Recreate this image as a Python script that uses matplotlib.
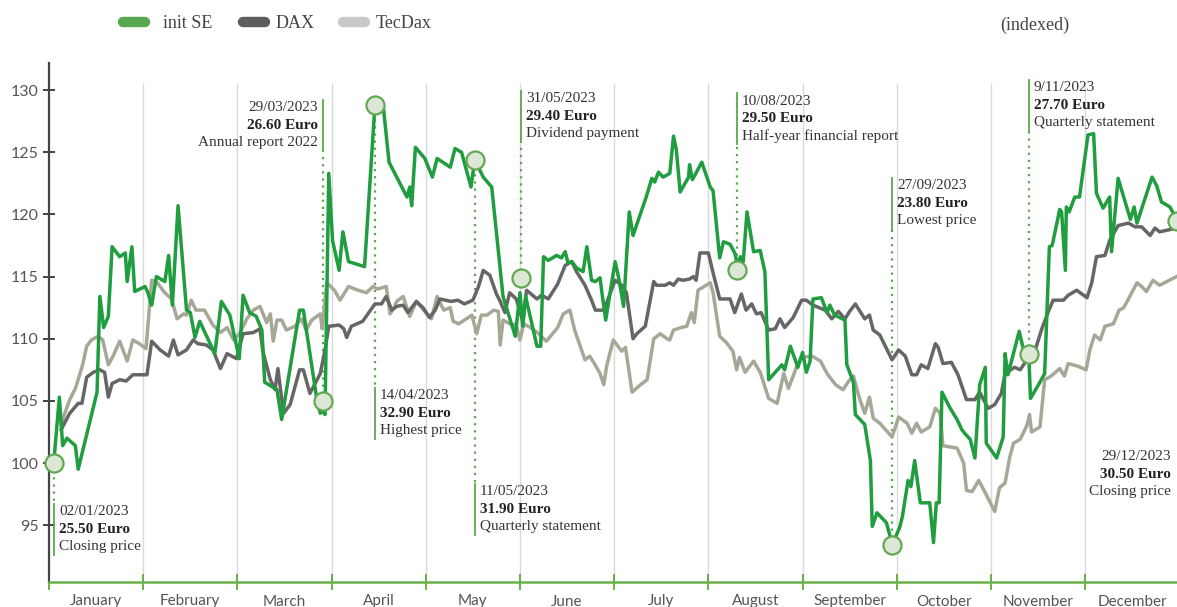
import matplotlib
matplotlib.use('Agg')
import matplotlib.pyplot as plt
from matplotlib.lines import Line2D

# x positions are in "month units" (0 = 1 Jan, 1 = 1 Feb, ...), values indexed to 100
months = ['January', 'February', 'March', 'April', 'May', 'June', 'July',
          'August', 'September', 'October', 'November', 'December']

init_x = [0.05, 0.11, 0.145, 0.19, 0.28, 0.31, 0.51, 0.54, 0.58, 0.63, 0.67, 0.75, 0.81, 0.83, 0.88, 0.91,
          1.02, 1.05, 1.09, 1.14, 1.23, 1.27, 1.31, 1.37, 1.46, 1.50, 1.55, 1.60, 1.76, 1.83, 1.92,
          2.02, 2.06, 2.13, 2.20, 2.26, 2.29, 2.42, 2.47, 2.66, 2.70, 2.84, 2.88, 2.91, 2.93, 2.97,
          3.01, 3.08, 3.12, 3.18, 3.35, 3.46, 3.55, 3.61, 3.80, 3.83, 3.85, 3.89, 3.99,
          4.07, 4.12, 4.26, 4.31, 4.38, 4.48, 4.52, 4.61, 4.70, 4.82, 4.95, 5.00, 5.03, 5.06, 5.18, 5.22,
          5.25, 5.30, 5.39, 5.44, 5.48, 5.51, 5.55, 5.60, 5.67, 5.71, 5.76, 5.80, 5.85, 5.87, 5.91,
          6.01, 6.05, 6.10, 6.16, 6.20, 6.34, 6.40, 6.43, 6.47, 6.52, 6.59, 6.63, 6.66, 6.70, 6.79, 6.80,
          6.83, 6.86, 6.93, 7.02, 7.05, 7.12, 7.16, 7.23, 7.28, 7.31, 7.34, 7.37, 7.41, 7.48, 7.55, 7.60,
          7.64, 7.78, 7.81, 7.87, 7.95, 8.00, 8.04, 8.08, 8.11, 8.20, 8.26, 8.29, 8.34, 8.45, 8.47, 8.54,
          8.56, 8.66, 8.72, 8.74, 8.79, 8.89, 8.93, 8.95, 9.03, 9.06, 9.12, 9.15, 9.19, 9.25, 9.35, 9.39,
          9.42, 9.45, 9.48, 9.56, 9.64, 9.69, 9.72, 9.78, 9.83, 9.88, 9.94, 9.95, 10.06, 10.13, 10.15,
          10.18, 10.30, 10.36, 10.40, 10.42, 10.52, 10.57, 10.62, 10.65, 10.73, 10.75, 10.79, 10.80,
          10.83, 10.89, 10.94, 11.03, 11.09, 11.12, 11.19, 11.26, 11.28, 11.35, 11.48, 11.52, 11.55,
          11.71, 11.76, 11.81, 11.90, 11.97]
init_y = [100.0, 105.3, 101.4, 102.0, 101.4, 99.5, 105.7, 113.4, 110.9, 111.8, 117.4, 116.6, 116.9, 114.6, 117.4, 113.8,
          114.2, 113.7, 112.7, 115.0, 114.6, 116.7, 112.7, 120.7, 112.3, 112.1, 110.1, 111.4, 108.8, 113.0, 111.9,
          108.4, 113.5, 112.1, 111.8, 110.7, 106.5, 105.9, 103.5, 112.3, 112.3, 105.3, 104.0, 104.2, 103.9, 123.3,
          117.9, 115.5, 118.6, 116.2, 115.8, 128.8, 128.6, 124.2, 121.4, 122.2, 120.7, 125.4, 124.5,
          123.0, 124.5, 123.8, 125.3, 125.0, 122.2, 124.4, 123.0, 122.2, 113.4, 110.2, 113.7, 111.0, 113.4, 109.4, 109.4,
          116.6, 116.3, 116.7, 116.5, 117.0, 116.1, 116.2, 115.7, 115.4, 117.4, 114.7, 114.6, 114.9, 113.7, 111.5,
          116.2, 114.8, 112.6, 120.2, 118.3, 121.4, 122.9, 122.6, 123.4, 123.0, 123.3, 126.3, 125.2, 121.8, 123.0, 124.0,
          122.8, 123.2, 124.2, 122.2, 121.9, 116.5, 117.8, 117.6, 116.9, 115.9, 116.6, 116.2, 120.2, 117.0, 117.1, 115.4,
          106.7, 107.9, 107.5, 109.4, 107.7, 108.9, 107.3, 108.2, 113.2, 113.3, 112.1, 112.7, 111.9, 111.5, 107.9, 106.5,
          103.9, 103.1, 100.2, 94.9, 96.0, 95.2, 94.1, 93.4, 94.8, 95.7, 98.6, 98.1, 100.2, 96.8, 96.8, 93.6,
          96.8, 96.8, 105.7, 104.5, 103.5, 102.7, 102.4, 101.9, 100.4, 106.3, 107.7, 101.6, 100.4, 102.1, 108.8,
          107.1, 110.6, 108.6, 108.9, 105.2, 106.5, 107.2, 117.4, 117.5, 120.4, 120.2, 115.5, 120.6,
          120.2, 121.4, 121.4, 126.4, 126.5, 121.7, 120.5, 121.4, 117.0, 122.9, 119.6, 120.6, 119.3,
          123.0, 122.3, 121.0, 120.6, 119.6]

dax_x = [0.13, 0.22, 0.31, 0.35, 0.40, 0.47, 0.54, 0.59, 0.63, 0.67, 0.75, 0.82, 0.89, 1.04, 1.09, 1.18, 1.27,
         1.32, 1.37, 1.46, 1.53, 1.58, 1.67, 1.74, 1.82, 1.89, 1.99, 2.06, 2.17, 2.24, 2.27, 2.35, 2.40, 2.43,
         2.49, 2.56, 2.66, 2.70, 2.77, 2.88, 2.93, 2.97, 3.08, 3.13, 3.16, 3.21, 3.33, 3.46, 3.53, 3.58, 3.64,
         3.69, 3.76, 3.81, 3.90, 3.97, 4.04, 4.10, 4.15, 4.27, 4.34, 4.41, 4.50, 4.56, 4.61, 4.68, 4.75, 4.79,
         4.84, 4.89, 4.96, 5.03, 5.07, 5.18, 5.23, 5.30, 5.40, 5.48, 5.55, 5.60, 5.69, 5.76, 5.80, 5.89, 5.96,
         6.01, 6.08, 6.13, 6.20, 6.24, 6.33, 6.42, 6.45, 6.54, 6.59, 6.63, 6.68, 6.73, 6.80, 6.84, 6.87, 6.91,
         7.00, 7.05, 7.12, 7.23, 7.28, 7.35, 7.40, 7.46, 7.51, 7.56, 7.64, 7.71, 7.76, 7.81, 7.90, 7.99, 8.04,
         8.11, 8.24, 8.31, 8.38, 8.45, 8.50, 8.56, 8.61, 8.66, 8.71, 8.75, 8.82, 8.95, 9.02, 9.09, 9.16, 9.21,
         9.26, 9.33, 9.41, 9.44, 9.49, 9.58, 9.65, 9.74, 9.83, 9.88, 9.97, 10.04, 10.11, 10.15, 10.25, 10.31,
         10.40, 10.47, 10.54, 10.61, 10.66, 10.77, 10.82, 10.91, 11.02, 11.07, 11.12, 11.21, 11.26, 11.35,
         11.46, 11.53, 11.60, 11.69, 11.74, 11.79, 11.97]
dax_y = [102.7, 104.0, 104.8, 104.8, 106.9, 107.3, 107.5, 107.3, 105.3, 106.4, 106.7, 106.6, 107.1, 107.1, 109.8, 109.1, 108.6,
         109.9, 108.7, 109.1, 109.9, 109.6, 109.5, 109.1, 107.6, 108.8, 108.4, 110.4, 110.5, 110.8, 109.0, 106.7, 105.9, 107.6,
         104.0, 104.7, 107.5, 107.5, 105.6, 107.2, 109.1, 111.0, 111.1, 110.8, 110.1, 111.0, 111.4, 112.8, 112.8, 113.4, 112.3,
         112.6, 112.7, 112.1, 113.0, 112.5, 111.7, 112.3, 113.2, 113.0, 113.1, 112.8, 113.1, 114.2, 115.5, 115.1, 113.6, 113.0,
         112.1, 113.7, 113.2, 111.4, 113.9, 113.2, 113.5, 113.2, 114.4, 115.9, 116.2, 115.4, 114.3, 113.1, 112.3, 112.3, 113.7,
         114.7, 114.3, 113.7, 110.0, 110.4, 111.0, 114.6, 114.3, 114.3, 114.5, 114.3, 114.8, 114.7, 114.8, 115.0, 114.7, 116.9,
         116.9, 115.3, 113.2, 113.2, 112.1, 113.6, 112.3, 112.8, 112.0, 112.1, 110.7, 110.8, 111.6, 110.9, 111.7, 113.1, 113.1,
         112.7, 112.3, 111.6, 112.2, 111.6, 112.2, 112.8, 112.2, 111.6, 111.9, 110.7, 110.3, 108.3, 109.1, 108.6, 107.1, 107.1,
         107.9, 107.6, 109.6, 109.3, 108.0, 108.1, 107.1, 105.1, 105.1, 105.7, 104.4, 104.7, 105.6, 107.2, 107.7, 107.5,
         108.5, 109.1, 110.8, 112.2, 113.1, 113.1, 113.5, 113.9, 113.3, 114.5, 116.6, 116.7, 117.9, 119.1,
         119.3, 119.0, 119.0, 118.3, 118.9, 118.6, 118.9]

tec_x = [0.13, 0.22, 0.28, 0.33, 0.36, 0.40, 0.45, 0.52, 0.57, 0.63, 0.68, 0.75, 0.79, 0.83, 0.89, 0.96, 1.03,
         1.09, 1.14, 1.23, 1.30, 1.36, 1.43, 1.46, 1.51, 1.56, 1.65, 1.74, 1.82, 1.89, 1.96, 2.03, 2.10, 2.17,
         2.24, 2.31, 2.35, 2.38, 2.42, 2.47, 2.52, 2.61, 2.68, 2.73, 2.79, 2.88, 2.90, 2.95, 3.03, 3.09, 3.18,
         3.28, 3.37, 3.44, 3.49, 3.58, 3.62, 3.67, 3.69, 3.76, 3.83, 3.90, 3.99, 4.06, 4.12, 4.19, 4.26, 4.29,
         4.35, 4.43, 4.49, 4.54, 4.59, 4.65, 4.72, 4.77, 4.79, 4.82, 4.89, 4.96, 5.00, 5.04, 5.11, 5.20, 5.28,
         5.40, 5.46, 5.53, 5.58, 5.69, 5.74, 5.79, 5.85, 5.89, 5.92, 5.99, 6.08, 6.12, 6.19, 6.28, 6.35, 6.42,
         6.49, 6.56, 6.59, 6.63, 6.71, 6.77, 6.82, 6.85, 6.89, 7.02, 7.05, 7.12, 7.19, 7.26, 7.30, 7.33, 7.39,
         7.48, 7.55, 7.64, 7.73, 7.80, 7.85, 7.94, 7.99, 8.10, 8.19, 8.26, 8.35, 8.43, 8.49, 8.54, 8.60, 8.66,
         8.71, 8.75, 8.82, 8.95, 9.02, 9.11, 9.16, 9.21, 9.26, 9.35, 9.41, 9.46, 9.49, 9.64, 9.71, 9.74, 9.80,
         9.87, 9.94, 10.04, 10.09, 10.15, 10.20, 10.24, 10.31, 10.38, 10.41, 10.43, 10.52, 10.57, 10.64, 10.73,
         10.78, 10.82, 10.92, 11.01, 11.05, 11.10, 11.16, 11.21, 11.30, 11.36, 11.41, 11.46, 11.55, 11.60,
         11.65, 11.72, 11.79, 11.97]
tec_y = [103.2, 105.1, 106.0, 107.2, 108.0, 109.4, 109.9, 110.2, 109.9, 107.9, 108.6, 109.8, 109.0, 108.2, 109.9, 109.6, 109.2,
         114.7, 114.6, 113.7, 113.2, 111.6, 112.0, 111.9, 113.1, 112.3, 112.3, 111.1, 110.5, 110.9, 109.9, 110.5, 111.6, 112.3,
         112.6, 111.3, 112.0, 109.8, 111.5, 111.5, 110.7, 111.0, 111.6, 110.7, 111.5, 112.0, 110.8, 114.5, 113.9, 113.1, 114.2,
         113.9, 113.7, 114.2, 114.0, 114.2, 112.0, 112.6, 113.0, 113.4, 111.8, 113.0, 112.2, 111.6, 113.4, 112.3, 112.5, 111.4,
         111.2, 111.6, 111.9, 110.4, 111.9, 111.9, 112.3, 112.2, 109.5, 111.5, 111.2, 111.1, 109.9, 111.2, 110.9, 110.4, 109.8,
         110.9, 112.0, 112.3, 110.7, 108.3, 108.6, 108.0, 107.2, 106.3, 107.8, 109.9, 109.0, 109.3, 105.7, 106.3, 106.7, 110.0,
         110.4, 110.0, 109.9, 110.7, 110.9, 111.0, 112.1, 111.3, 113.9, 114.5, 113.7, 110.2, 109.7, 109.0, 107.5, 108.5, 107.3,
         108.2, 107.3, 105.2, 104.8, 107.2, 106.0, 107.8, 108.5, 108.6, 108.2, 107.2, 106.3, 105.9, 106.6, 107.0, 105.3, 104.0,
         105.3, 103.6, 103.2, 102.1, 103.7, 103.2, 102.4, 103.2, 102.5, 102.9, 104.4, 104.0, 101.4, 101.2, 100.0, 97.8, 97.7,
         98.6, 97.6, 96.1, 98.0, 98.4, 100.5, 101.6, 101.9, 103.0, 103.9, 102.5, 102.9, 106.7, 107.0, 107.6,
         107.0, 108.0, 107.8, 107.5, 109.1, 110.3, 109.9, 111.0, 111.2, 112.3, 112.5, 113.2, 114.5, 114.2,
         113.8, 114.7, 114.3, 115.0]

# key events on the init SE line
event_x = [0.05, 2.91, 3.46, 4.52, 5.01, 7.30, 8.95, 10.40, 11.97]
event_y = [100.0, 105.0, 128.8, 124.4, 114.9, 115.5, 93.4, 108.8, 119.5]
event_dates = ['02/01/2023', '29/03/2023', '14/04/2023', '11/05/2023', '31/05/2023',
               '10/08/2023', '27/09/2023', '9/11/2023', '29/12/2023']
event_prices = ['25.50 Euro', '26.60 Euro', '32.90 Euro', '31.90 Euro', '29.40 Euro',
                '29.50 Euro', '23.80 Euro', '27.70 Euro', '30.50 Euro']
event_labels = ['Closing price', 'Annual report 2022', 'Highest price', 'Quarterly statement',
                'Dividend payment', 'Half-year financial report', 'Lowest price',
                'Quarterly statement', 'Closing price']

# layout of the label blocks: y of first text line, side of the text
label_top = [96.1, 128.6, 105.4, 97.7, 129.3, 129.1, 122.3, 130.2, 100.5]
label_side = ['r', 'l', 'r', 'r', 'r', 'r', 'r', 'r', 'l']

GREEN = '#1f9d3f'
DAX_C = '#666666'
TEC_C = '#a7a798'
MARK_G = '#5aa84e'
SERIF = 'Liberation Serif'
SANS = 'Lato'

fig = plt.figure(figsize=(11.77, 6.07), dpi=100)
ax = fig.add_axes([49 / 1177, 25 / 607, 1128 / 1177, 519 / 607])
ax.set_xlim(0, 11.975)
ax.set_ylim(90.43, 132.18)

ax.vlines(range(1, 12), 90.43, 130.6, color='#dadada', lw=1, zorder=0)

ax.plot(tec_x, tec_y, color=TEC_C, lw=2.5, zorder=2, solid_joinstyle='round')
ax.plot(dax_x, dax_y, color=DAX_C, lw=2.5, zorder=3, solid_joinstyle='round')
ax.plot(init_x, init_y, color=GREEN, lw=2.5, zorder=4, solid_joinstyle='round')

lh = 1.41  # line height of label text, in data units
for i in range(len(event_x)):
    x0, y0 = event_x[i], event_y[i]
    top = label_top[i]
    if i < 8:
        seg_top = top + 0.64
        seg_bot = top - 2 * lh - 0.64
        ax.plot([x0, x0], [seg_bot, seg_top], color=MARK_G, lw=1.3, zorder=5, clip_on=False)
        near = seg_bot if y0 < seg_bot else seg_top
        ax.plot([x0, x0], [y0, near], color=MARK_G, lw=1.6, ls=(0, (1, 2.2)), zorder=1, clip_on=False)
    if label_side[i] == 'r':
        tx, ha = x0 + 0.055, 'left'
    else:
        tx, ha = x0 - 0.055, 'right'
    ax.text(tx, top, event_dates[i], ha=ha, va='center', fontsize=11, family=SERIF, color='#333333')
    ax.text(tx, top - lh, event_prices[i], ha=ha, va='center', fontsize=11, family=SERIF,
            fontweight='bold', color='#222222')
    ax.text(tx, top - 2 * lh, event_labels[i], ha=ha, va='center', fontsize=11, family=SERIF,
            color='#333333')

ax.plot(event_x, event_y, ls='none', marker='o', ms=13, mfc='#dde7d6', mec='#62a852', mew=1.6,
        zorder=6, clip_on=False)

# axes styling
for s in ['top', 'right']:
    ax.spines[s].set_visible(False)
ax.spines['left'].set_color('#444444')
ax.spines['left'].set_linewidth(1.6)
ax.spines['bottom'].set_color('#6ab04c')
ax.spines['bottom'].set_linewidth(1.8)

ax.set_yticks(range(95, 131, 5))
ax.tick_params(axis='y', direction='inout', length=9, width=1.4, color='#444444',
               labelsize=11.5, labelcolor='#555555', pad=3)
for t in ax.get_yticklabels():
    t.set_family(SANS)

ax.set_xticks(range(0, 12))
ax.set_xticklabels([])
ax.set_xticks([m + 0.5 for m in range(12)], minor=True)
ax.set_xticklabels(months, minor=True, fontsize=11, color='#555555', family=SANS)
ax.tick_params(axis='x', which='major', direction='inout', length=11, width=1.4, color='#6ab04c')
ax.tick_params(axis='x', which='minor', length=0, pad=9)

# legend
def px(x, y):
    return x / 1177, 1 - y / 607

legend = [('init SE', '#58a84f', 118, 163), ('DAX', '#5d5d5d', 238, 276), ('TecDax', '#c9c9c9', 338, 376)]
for name, col, x0, tx in legend:
    (a, b), (c, d) = px(x0 + 5, 22), px(x0 + 27, 22)
    fig.add_artist(Line2D([a, c], [b, d], color=col, lw=7.5, solid_capstyle='round',
                          transform=fig.transFigure))
    fig.text(*px(tx, 23), name, fontsize=13, family=SERIF, color='#444444', va='center', ha='left')
fig.text(*px(1000, 25), '(indexed)', fontsize=13, family=SERIF, color='#444444', va='center', ha='left')

fig.savefig('out.png', dpi=100)
